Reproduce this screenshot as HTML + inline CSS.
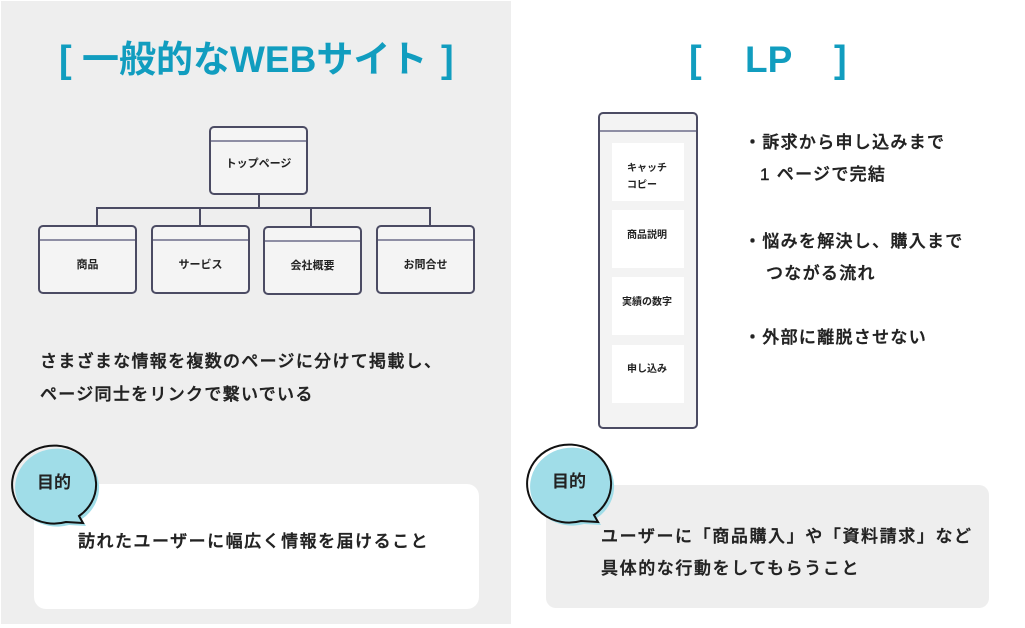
<!DOCTYPE html>
<html><head><meta charset="utf-8">
<style>
*{margin:0;padding:0;box-sizing:border-box}
html,body{width:1025px;height:628px;background:#fff;overflow:hidden}
body{position:relative;font-family:"Liberation Sans","Noto Sans CJK JP",sans-serif;color:#222}
.abs{position:absolute;white-space:nowrap}
.title{color:#119dbf;font-size:37px;line-height:40px;font-weight:bold}
.br{font-weight:bold;font-size:38px}
.box{position:absolute;border:2px solid #4b4b63;border-radius:5px;background:#f4f4f4}
.box .hd{position:absolute;left:0;right:0;height:1.5px;background:#8e8ea4}
.box .lb{position:absolute;left:0;right:0;text-align:center;font-size:11px;font-weight:bold;color:#222;line-height:14px}
.ln{position:absolute;background:#4b4b63}
.txt{font-size:17px;letter-spacing:1.3px;font-weight:500;line-height:20px;color:#222;-webkit-text-stroke:0.4px #222}
.card{position:absolute;background:#fff}
.lbl{font-size:10px;font-weight:bold;line-height:17px;color:#222}
</style></head><body>
<div style="position:absolute;left:1px;top:1px;width:510px;height:623px;background:#eeeeee"></div>

<!-- left title -->
<div class="abs title" style="left:59px;top:40px"><span class="br">[</span></div>
<div class="abs title" style="left:82px;top:40px">一般的なWEBサイト</div>
<div class="abs title" style="left:441px;top:40px"><span class="br">]</span></div>

<!-- tree -->
<div class="ln" style="left:258px;top:193px;width:1.5px;height:16px"></div>
<div class="ln" style="left:96px;top:207px;width:335px;height:1.5px"></div>
<div class="ln" style="left:96px;top:207px;width:1.5px;height:20px"></div>
<div class="ln" style="left:199px;top:207px;width:1.5px;height:20px"></div>
<div class="ln" style="left:310px;top:207px;width:1.5px;height:20px"></div>
<div class="ln" style="left:429px;top:207px;width:1.5px;height:20px"></div>

<div class="box" style="left:209px;top:126px;width:99px;height:69px"><div class="hd" style="top:12px"></div><div class="lb" style="top:29px">トップページ</div></div>
<div class="box" style="left:38px;top:225px;width:99px;height:69px"><div class="hd" style="top:12px"></div><div class="lb" style="top:31px">商品</div></div>
<div class="box" style="left:151px;top:225px;width:99px;height:69px"><div class="hd" style="top:12px"></div><div class="lb" style="top:31px">サービス</div></div>
<div class="box" style="left:263px;top:226px;width:99px;height:69px"><div class="hd" style="top:12px"></div><div class="lb" style="top:31px">会社概要</div></div>
<div class="box" style="left:376px;top:225px;width:99px;height:69px"><div class="hd" style="top:12px"></div><div class="lb" style="top:31px">お問合せ</div></div>

<div class="abs txt" style="left:40px;top:352px">さまざまな情報を複数のページに分けて掲載し、</div>
<div class="abs txt" style="left:40px;top:385px">ページ同士をリンクで繋いでいる</div>

<!-- left bottom card -->
<div style="position:absolute;left:34px;top:484px;width:445px;height:125px;background:#fff;border-radius:12px"></div>
<div class="abs txt" style="left:78px;top:532px;letter-spacing:1.5px">訪れたユーザーに幅広く情報を届けること</div>

<svg class="abs" style="left:0;top:0" width="1025" height="628">
  <path d="M 69 525 L 86 526 L 82 519 A 42 39 0 1 0 69 525 Z" fill="#a0dde8"/>
  <path d="M 66 522 L 83 523 L 79 516 A 42 39 0 1 0 66 522 Z" fill="none" stroke="#111" stroke-width="2"/>
</svg>
<div class="abs" style="left:37px;top:471px;font-size:17px;font-weight:bold;line-height:24px">目的</div>

<!-- right title -->
<div class="abs title" style="left:689px;top:40px"><span class="br">[</span></div>
<div class="abs title" style="left:745px;top:40px">LP</div>
<div class="abs title" style="left:834px;top:40px"><span class="br">]</span></div>

<!-- phone -->
<div class="box" style="left:598px;top:112px;width:100px;height:317px;background:#f3f3f3"><div class="hd" style="top:16px"></div></div>
<div class="card" style="left:612px;top:143px;width:72px;height:58px"></div>
<div class="card" style="left:612px;top:210px;width:72px;height:58px"></div>
<div class="card" style="left:612px;top:277px;width:72px;height:58px"></div>
<div class="card" style="left:612px;top:345px;width:72px;height:58px"></div>
<div class="abs lbl" style="left:627px;top:160px">キャッチ<br>コピー</div>
<div class="abs lbl" style="left:627px;top:227px">商品説明</div>
<div class="abs lbl" style="left:622px;top:294px">実績の数字</div>
<div class="abs lbl" style="left:627px;top:361px">申し込み</div>

<div class="abs txt" style="left:744px;top:133px">・訴求から申し込みまで</div>
<div class="abs txt" style="left:760px;top:165px">1 ページで完結</div>
<div class="abs txt" style="left:744px;top:232px">・悩みを解決し、購入まで</div>
<div class="abs txt" style="left:766px;top:264px">つながる流れ</div>
<div class="abs txt" style="left:744px;top:328px">・外部に離脱させない</div>

<!-- right bottom card -->
<div style="position:absolute;left:546px;top:485px;width:443px;height:123px;background:#eeeeee;border-radius:10px"></div>
<svg class="abs" style="left:0;top:0" width="1025" height="628">
  <g transform="translate(515,-1)">
    <path d="M 69 525 L 86 526 L 82 519 A 42 39 0 1 0 69 525 Z" fill="#a0dde8"/>
    <path d="M 66 522 L 83 523 L 79 516 A 42 39 0 1 0 66 522 Z" fill="none" stroke="#111" stroke-width="2"/>
  </g>
</svg>
<div class="abs" style="left:552px;top:470px;font-size:17px;font-weight:bold;line-height:24px">目的</div>
<div class="abs txt" style="left:601px;top:527px;letter-spacing:1.6px">ユーザーに「商品購入」や「資料請求」など</div>
<div class="abs txt" style="left:601px;top:559px;letter-spacing:1.6px">具体的な行動をしてもらうこと</div>
</body></html>
